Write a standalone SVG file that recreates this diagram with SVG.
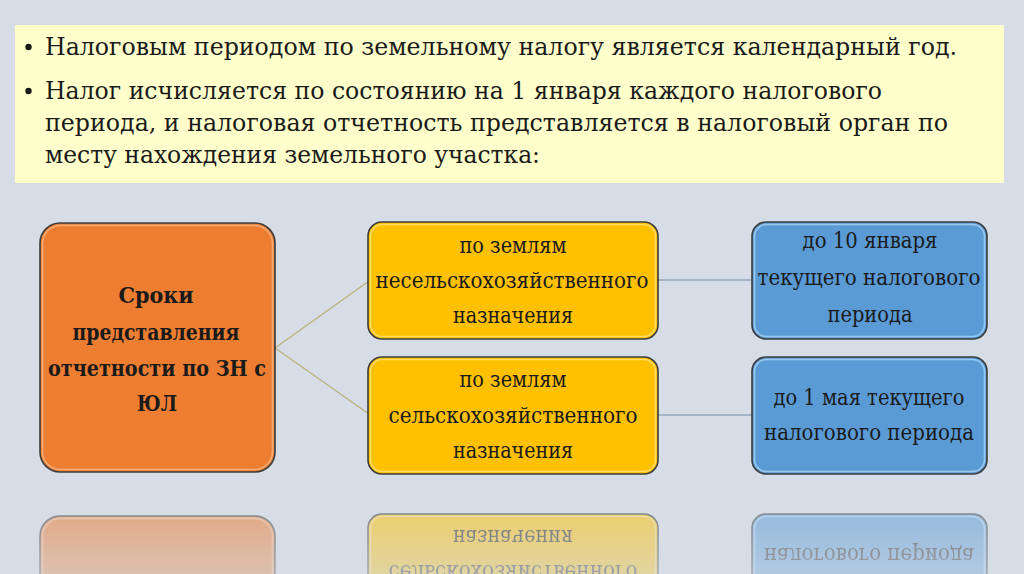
<svg xmlns="http://www.w3.org/2000/svg" xmlns:xlink="http://www.w3.org/1999/xlink" width="1024" height="574" viewBox="0 0 1024 574">
<style>
.hdr{font-family:"DejaVu Serif","Liberation Serif","Times New Roman",serif;font-size:24.5px;fill:#1a1a1a}
.bx{font-family:"DejaVu Serif","Liberation Serif","Times New Roman",serif;font-size:22px;fill:#1a1a1a;text-anchor:middle}
.bold{font-weight:bold;font-size:23px}
.outer{stroke:#3d3d3d;stroke-width:1.6}
.inner{fill:none;stroke-width:1.6;stroke-opacity:0.8}
.c1{fill:none;stroke:#b8b27c;stroke-width:1.3}
.c2{fill:none;stroke:#93a6ba;stroke-width:1.5}
</style>
<defs>
<linearGradient id="fadeGrad" gradientUnits="userSpaceOnUse" x1="0" y1="505" x2="0" y2="574">
<stop offset="0" stop-color="#fff" stop-opacity="0.55"/>
<stop offset="1" stop-color="#fff" stop-opacity="0.3"/>
</linearGradient>
<mask id="fade" maskUnits="userSpaceOnUse" x="0" y="495" width="1024" height="79">
<rect x="0" y="495" width="1024" height="79" fill="url(#fadeGrad)"/>
</mask>
</defs>
<rect x="0" y="0" width="1024" height="574" fill="#d6dde6"/>

<g id="header">
<rect x="15" y="25" width="989" height="158" fill="#ffffcc"/>
<circle cx="28.5" cy="47" r="3.2" fill="#1a1a1a"/>
<text class="hdr" x="45" y="55" textLength="912" lengthAdjust="spacingAndGlyphs">Налоговым периодом по земельному налогу является календарный год.</text>
<circle cx="28.5" cy="91" r="3.2" fill="#1a1a1a"/>
<text class="hdr" x="45" y="99" textLength="837" lengthAdjust="spacingAndGlyphs">Налог исчисляется по состоянию на 1 января каждого налогового</text>
<text class="hdr" x="45" y="131" textLength="903" lengthAdjust="spacingAndGlyphs">периода, и налоговая отчетность представляется в налоговый орган по</text>
<text class="hdr" x="45" y="163" textLength="495" lengthAdjust="spacingAndGlyphs">месту нахождения земельного участка:</text>
</g>

<g id="connectors">
<path class="c1" d="M275 348 L369 281"/>
<path class="c1" d="M275 348 L369 414"/>
<path class="c2" d="M658 280 L752 280"/>
<path class="c2" d="M658 415 L752 415"/>
</g>

<g id="nodes">
<g id="n-main">
<rect class="outer" x="40" y="223" width="235" height="249" rx="20" fill="#ed7d31"/>
<rect class="inner" x="42.5" y="225.5" width="230" height="244" rx="18" stroke="#f7b98a"/>
<text class="bx bold" x="156" y="303" textLength="75" lengthAdjust="spacingAndGlyphs">Сроки</text>
<text class="bx bold" x="156" y="340" textLength="167" lengthAdjust="spacingAndGlyphs">представления</text>
<text class="bx bold" x="157" y="376" textLength="218" lengthAdjust="spacingAndGlyphs">отчетности по ЗН с</text>
<text class="bx bold" x="157" y="411" textLength="40" lengthAdjust="spacingAndGlyphs">ЮЛ</text>
</g>
<g id="n-nonagri">
<rect class="outer" x="368" y="222" width="290" height="117" rx="14" fill="#ffc000"/>
<rect class="inner" x="370.5" y="224.5" width="285" height="112" rx="12" stroke="#ffe27a"/>
<text class="bx" x="513" y="253" textLength="107" lengthAdjust="spacingAndGlyphs">по землям</text>
<text class="bx" x="512" y="288" textLength="273" lengthAdjust="spacingAndGlyphs">несельскохозяйственного</text>
<text class="bx" x="513" y="323" textLength="120" lengthAdjust="spacingAndGlyphs">назначения</text>
</g>
<g id="n-agri">
<rect class="outer" x="368" y="357" width="290" height="117" rx="14" fill="#ffc000"/>
<rect class="inner" x="370.5" y="359.5" width="285" height="112" rx="12" stroke="#ffe27a"/>
<text class="bx" x="513" y="387" textLength="107" lengthAdjust="spacingAndGlyphs">по землям</text>
<text class="bx" x="513" y="423" textLength="249" lengthAdjust="spacingAndGlyphs">сельскохозяйственного</text>
<text class="bx" x="513" y="458" textLength="120" lengthAdjust="spacingAndGlyphs">назначения</text>
</g>
<g id="n-jan">
<rect class="outer" x="752" y="222" width="235" height="117" rx="14" fill="#5b9bd5"/>
<rect class="inner" x="754.5" y="224.5" width="230" height="112" rx="12" stroke="#a9d4f5"/>
<text class="bx" x="870" y="248" textLength="135" lengthAdjust="spacingAndGlyphs">до 10 января</text>
<text class="bx" x="869" y="285" textLength="223" lengthAdjust="spacingAndGlyphs">текущего налогового</text>
<text class="bx" x="870" y="322" textLength="85" lengthAdjust="spacingAndGlyphs">периода</text>
</g>
<g id="n-may">
<rect class="outer" x="752" y="357" width="235" height="117" rx="14" fill="#5b9bd5"/>
<rect class="inner" x="754.5" y="359.5" width="230" height="112" rx="12" stroke="#a9d4f5"/>
<text class="bx" x="869" y="405" textLength="191" lengthAdjust="spacingAndGlyphs">до 1 мая текущего</text>
<text class="bx" x="869" y="440" textLength="210" lengthAdjust="spacingAndGlyphs">налогового периода</text>
</g>
</g>

<g id="reflection" mask="url(#fade)">
<use xlink:href="#n-main" href="#n-main" transform="translate(0,988) scale(1,-1)"/>
<use xlink:href="#n-agri" href="#n-agri" transform="translate(0,988) scale(1,-1)"/>
<use xlink:href="#n-may" href="#n-may" transform="translate(0,988) scale(1,-1)"/>
</g>
</svg>
